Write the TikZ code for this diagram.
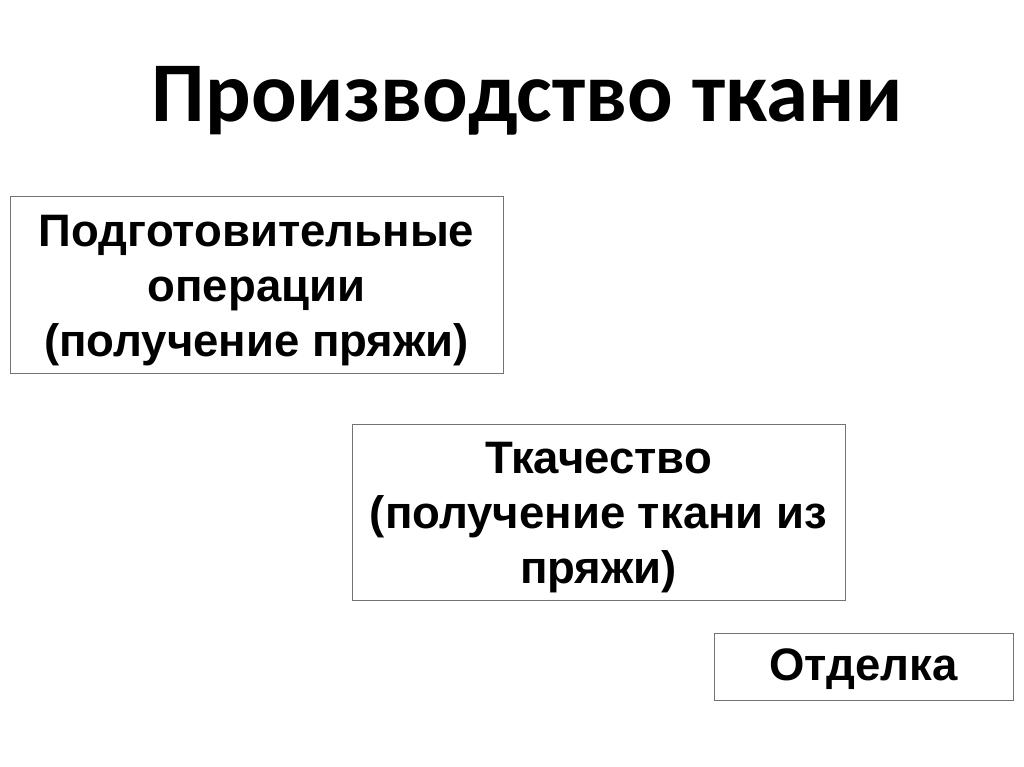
\documentclass[tikz,border=0pt]{standalone}
\usepackage{fontspec}
\setmainfont{Liberation Sans}
\newfontfamily\titlefont{Carlito}
\begin{document}
\begin{tikzpicture}[x=1pt,y=-1pt,
  box/.style={draw=black!55,line width=1pt,fill=white,inner sep=0pt},
  boxtext/.style={align=center,font=\fontsize{45.5}{55}\selectfont\bfseries,text=black}]
\useasboundingbox[fill=white] (0,0) rectangle (1024,767);
\node[font=\titlefont\fontsize{85}{95}\selectfont\bfseries] (title) at (527,101) {Производство ткани};
\draw[box] (10,197) rectangle (503,373) coordinate (b1);
\node[boxtext] (t1) at (256.5,291) {Подготовительные\\операции\\(получение пряжи)};
\draw[box] (352,424) rectangle (845,600);
\node[boxtext] (t2) at (598.5,518) {Ткачество\\(получение ткани из\\пряжи)};
\draw[box] (714,633) rectangle (1013,700);
\node[boxtext] (t3) at (863.5,669) {Отделка};
\end{tikzpicture}
\end{document}
